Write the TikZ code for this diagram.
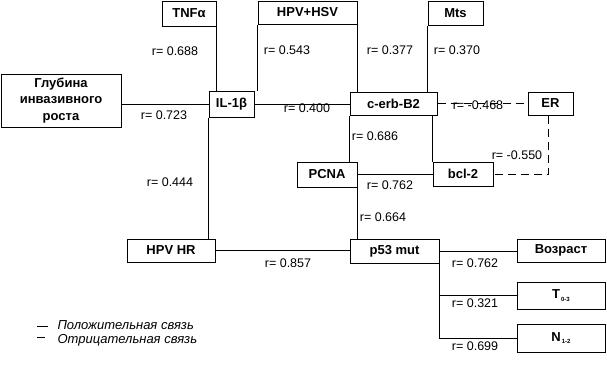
\documentclass[tikz,border=0pt]{standalone}
\usepackage{fontspec}
\setmainfont{Liberation Sans}
\begin{document}
\begin{tikzpicture}[x=1pt,y=-1pt,line width=1pt,
  bx/.style={draw=black,fill=white,inner sep=0pt,font=\fontsize{13}{16.5}\selectfont\bfseries,align=center},
  lbl/.style={inner sep=0pt,font=\fontsize{12.5}{14}\selectfont},
  leg/.style={inner sep=0pt,anchor=west,font=\fontsize{13}{14}\selectfont\itshape},
  neg/.style={dash pattern=on 8pt off 5pt}]
\useasboundingbox (0,0) rectangle (607,373);
% boxes
\node[bx,minimum width=54pt,minimum height=25pt] (tnf) at (189,13.5) {TNFα};
\node[bx,minimum width=99pt,minimum height=23pt] (hsv) at (307.5,12.5) {HPV+HSV};
\node[bx,minimum width=55pt,minimum height=24pt] (mts) at (455.5,13) {Mts};
\node[bx,minimum width=120pt,minimum height=53pt] (gl) at (61,100.5) {Глубина\\инвазивного\\роста};
\node[bx,minimum width=45pt,minimum height=26pt] (il) at (231.5,104) {IL-1β};
\node[bx,minimum width=87pt,minimum height=23pt] (ce) at (393.5,103.5) {c-erb-B2};
\node[bx,minimum width=45pt,minimum height=23pt] (er) at (550.5,103.5) {ER};
\node[bx,minimum width=60pt,minimum height=25pt] (pc) at (327,174.5) {PCNA};
\node[bx,minimum width=60pt,minimum height=24pt] (bc) at (463,174) {bcl-2};
\node[bx,minimum width=88pt,minimum height=23pt] (hr) at (171,250.5) {HPV HR};
\node[bx,minimum width=89pt,minimum height=24pt] (p53) at (394.5,251) {p53 mut};
\node[bx,minimum width=88pt,minimum height=23pt] (vo) at (561,250.5) {Возраст};
\node[bx,minimum width=88pt,minimum height=27pt] (t) at (561,295.5) {T\raisebox{-0.4ex}{\fontsize{6}{6}\selectfont\,0-3}};
\node[bx,minimum width=88pt,minimum height=28pt] (n) at (561,338) {N\raisebox{-0.4ex}{\fontsize{6}{6}\selectfont\,1-2}};
% connectors
\draw (tnf.south east) -- (tnf.south east |- il.north);
\draw (hsv.south west) -- (hsv.south west |- il.north);
\draw (hsv.south east) -- (hsv.south east |- ce.north);
\draw (mts.south west) -- (mts.south west |- ce.north);
\draw (il.west) -- (il.west -| gl.east);
\draw (il.east) -- (il.east -| ce.west);
\draw[neg] (ce.east) -- (er.west);
\draw[neg] ([xshift=-2pt]er.south) |- (bc.east);
\draw (ce.south west) -- (ce.south west |- pc.north);
\draw (bc.north west |- ce.south) -- (bc.north west);
\draw (pc.east) -- (pc.east -| bc.west);
\draw (pc.south east) -- (pc.south east |- p53.north);
\draw (il.south west) -- (il.south west |- hr.north);
\draw (hr.east) -- (hr.east -| p53.west);
\draw (p53.east) -- (p53.east -| vo.west);
\draw (p53.south east) |- (t.west);
\draw (p53.south east) |- (n.west);
% labels
\node[lbl] (l1) at (175,51) {r= 0.688};
\node[lbl] (l2) at (287,50) {r= 0.543};
\node[lbl] (l3) at (390,50) {r= 0.377};
\node[lbl] (l4) at (457,50) {r= 0.370};
\node[lbl] (l5) at (164,115) {r= 0.723};
\node[lbl] (l6) at (307,108) {r= 0.400};
\node[lbl] (l7) at (478,105) {r= -0.468};
\node[lbl] (l8) at (375,136) {r= 0.686};
\node[lbl] (l9) at (390,185) {r= 0.762};
\node[lbl] (l10) at (517,155) {r= -0.550};
\node[lbl] (l11) at (383,217) {r= 0.664};
\node[lbl] (l12) at (170,182) {r= 0.444};
\node[lbl] (l13) at (288,263) {r= 0.857};
\node[lbl] (l14) at (475,263) {r= 0.762};
\node[lbl] (l15) at (475,303) {r= 0.321};
\node[lbl] (l16) at (475,346) {r= 0.699};
% legend
\coordinate (a1) at (37,326); \coordinate (a2) at (48,326);
\draw (a1) -- (a2);
\coordinate (b1) at (37,337); \coordinate (b2) at (45,337);
\draw (b1) -- (b2);
\node[leg] (g1) at (57,325) {Положительная связь};
\node[leg] (g2) at (57,340) {Отрицательная связь};
\end{tikzpicture}
\end{document}
